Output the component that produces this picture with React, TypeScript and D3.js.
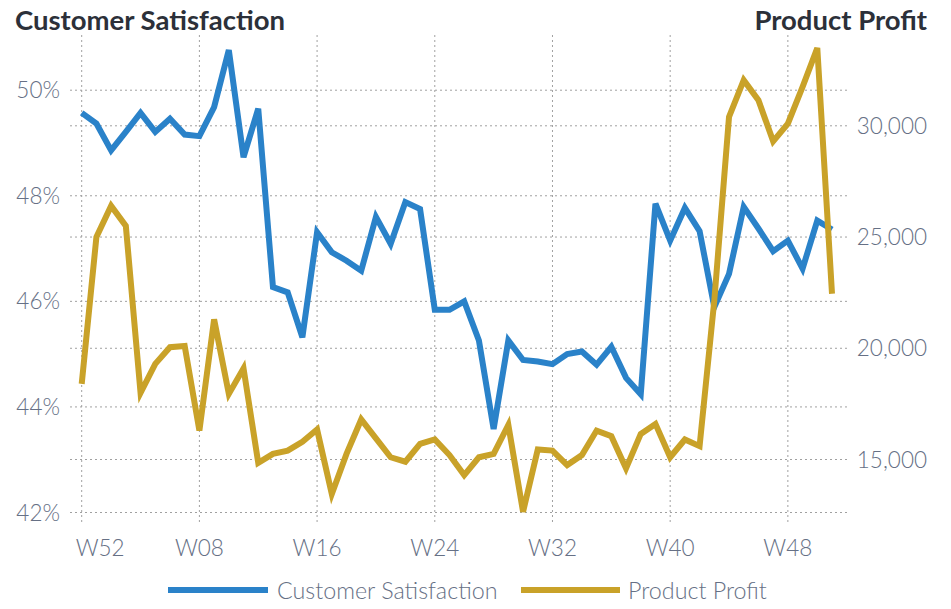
import * as d3 from 'd3'

const weeks = [
  'W52', 'W01', 'W02', 'W03', 'W04', 'W05', 'W06', 'W07', 'W08', 'W09', 'W10', 'W11', 'W12',
  'W13', 'W14', 'W15', 'W16', 'W17', 'W18', 'W19', 'W20', 'W21', 'W22', 'W23', 'W24', 'W25',
  'W26', 'W27', 'W28', 'W29', 'W30', 'W31', 'W32', 'W33', 'W34', 'W35', 'W36', 'W37', 'W38',
  'W39', 'W40', 'W41', 'W42', 'W43', 'W44', 'W45', 'W46', 'W47', 'W48', 'W49', 'W50', 'W51',
]

const satisfaction = [
  49.57, 49.37, 48.86, 49.21, 49.57, 49.21, 49.46, 49.16, 49.13, 49.68, 50.76, 48.73, 49.65,
  46.27, 46.17, 45.32, 47.31, 46.93, 46.77, 46.58, 47.6, 47.09, 47.88, 47.75, 45.84, 45.84,
  46.0, 45.26, 43.58, 45.26, 44.89, 44.86, 44.81, 45.0, 45.05, 44.8, 45.14, 44.55, 44.24,
  47.85, 47.15, 47.77, 47.33, 45.89, 46.52, 47.79, 47.38, 46.95, 47.15, 46.62, 47.53, 47.36,
]

const profit = [
  18400, 25000, 26400, 25500, 18000, 19300, 20050, 20100, 16300, 21300, 17950, 19100, 14850,
  15250, 15400, 15800, 16350, 13450, 15250, 16800, 15950, 15100, 14900, 15700, 15900, 15200,
  14300, 15100, 15250, 16550, 12650, 15450, 15400, 14750, 15200, 16300, 16050, 14600, 16150,
  16600, 15100, 15900, 15600, 22150, 30400, 32050, 31150, 29300, 30100, 31750, 33500, 22450,
]

const xTicks = ['W52', 'W08', 'W16', 'W24', 'W32', 'W40', 'W48']
const leftTicks = [42, 44, 46, 48, 50]
const rightTicks = [15000, 20000, 25000, 30000]

const BLUE = '#2a82c9'
const GOLD = '#c9a229'
const TICK = '#667085'
const TITLE = '#2c3039'
const FONT = 'Lato, "Open Sans", sans-serif'

export default function App() {
  const width = 951
  const height = 609
  const left = 70
  const right = 847
  const top = 35
  const bottom = 523

  const x = d3.scalePoint<string>().domain(weeks).range([81.7, 832])
  const yL = d3.scaleLinear().domain([42, 50]).range([512.5, 90.2])
  const yR = d3.scaleLinear().domain([15000, 30000]).range([459.5, 125.8])

  const satLine = d3.line<number>()
    .x((_, i) => x(weeks[i]) as number)
    .y(d => yL(d))
  const profLine = d3.line<number>()
    .x((_, i) => x(weeks[i]) as number)
    .y(d => yR(d))

  const fmt = d3.format(',')

  return (
    <svg width={width} height={height} style={{ position: 'absolute', left: 0, top: 0 }}>
      <rect width={width} height={height} fill="#ffffff" />
      <g stroke="#a0a0a0" strokeWidth={1} strokeDasharray="2,3" fill="none">
        {xTicks.map(t => (
          <line key={t} x1={x(t)} x2={x(t)} y1={top} y2={bottom} />
        ))}
        {leftTicks.map(t => (
          <line key={'l' + t} x1={left} x2={right} y1={yL(t)} y2={yL(t)} />
        ))}
        {rightTicks.map(t => (
          <line key={'r' + t} x1={left} x2={right} y1={yR(t)} y2={yR(t)} />
        ))}
      </g>

      <path d={satLine(satisfaction) ?? ''} fill="none" stroke={BLUE} strokeWidth={6} />
      <path d={profLine(profit) ?? ''} fill="none" stroke={GOLD} strokeWidth={6} />

      <g fontFamily={FONT} fontSize={22.5} fontWeight={300} fill={TICK}>
        {leftTicks.map(t => (
          <text key={t} x={60} y={yL(t) + 8} textAnchor="end">{t}%</text>
        ))}
        {rightTicks.map(t => (
          <text key={t} x={927} y={yR(t) + 8} textAnchor="end">{fmt(t)}</text>
        ))}
        {xTicks.map((t, i) => (
          <text key={t} x={i === 0 ? (x(t) as number) - 6 : x(t)} y={556}
            textAnchor={i === 0 ? 'start' : 'middle'}>{t}</text>
        ))}
      </g>

      <g fontFamily={FONT} fontSize={27.5} fontWeight="bold" fill={TITLE}>
        <text x={15} y={30}>Customer Satisfaction</text>
        <text x={927} y={30} textAnchor="end">Product Profit</text>
      </g>

      <g fontFamily={FONT} fontSize={23.3} fontWeight={300} fill={TICK}>
        <line x1={168} x2={268} y1={590} y2={590} stroke={BLUE} strokeWidth={6} />
        <text x={277} y={599}>Customer Satisfaction</text>
        <line x1={521} x2={620} y1={590} y2={590} stroke={GOLD} strokeWidth={6} />
        <text x={628} y={599}>Product Profit</text>
      </g>
    </svg>
  )
}
